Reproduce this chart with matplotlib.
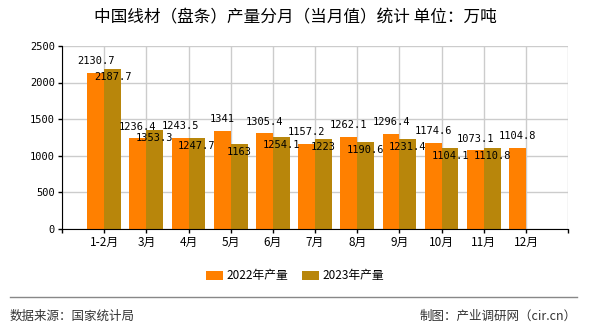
import matplotlib.pyplot as plt
import numpy as np
from matplotlib.lines import Line2D

months = ['1-2月', '3月', '4月', '5月', '6月', '7月', '8月', '9月', '10月', '11月', '12月']
prod_2022 = [2130.7, 1236.4, 1243.5, 1341, 1305.4, 1157.2, 1262.1, 1296.4, 1174.6, 1073.1, 1104.8]
prod_2023 = [2187.7, 1353.3, 1247.7, 1163, 1254.1, 1223, 1190.6, 1231.4, 1104.1, 1110.8]
yticks = [0, 500, 1000, 1500, 2000, 2500]

plt.rcParams['font.family'] = ['Noto Sans CJK SC', 'DejaVu Sans']
mono = 'DejaVu Sans Mono'

fig = plt.figure(figsize=(5.9, 3.3), dpi=100)
ax = fig.add_axes([0.105, 0.306, 0.858, 0.555])

x = np.arange(len(months))
w = 0.4
b1 = ax.bar(x[:len(prod_2022)] - w / 2, prod_2022, w, color='#ff8000', label='2022年产量', zorder=2)
b2 = ax.bar(x[:len(prod_2023)] + w / 2, prod_2023, w, color='#b8860b', label='2023年产量', zorder=2)

for xi, v in zip(x, prod_2022):
    ax.annotate(f'{v:g}', (xi - w / 2, v), xytext=(0, 8.5), textcoords='offset points',
                ha='center', va='center', fontsize=7.5, family=mono, zorder=3)
for xi, v in zip(x, prod_2023):
    ax.annotate(f'{v:g}', (xi + w / 2, v), xytext=(0, -5.8), textcoords='offset points',
                ha='center', va='center', fontsize=7.5, family=mono, zorder=3)

ax.set_xlim(-1, len(months))
ax.set_ylim(0, 2500)
ax.set_xticks(np.arange(-1, len(months) + 1))
ax.set_xticklabels([''] + months + [''], fontsize=8.5)
ax.set_yticks(yticks)
ax.set_yticklabels([str(t) for t in yticks], fontsize=7.5, family=mono)
ax.tick_params(direction='out', length=3, width=1, pad=2)
ax.grid(True, color='#cccccc', linewidth=1, zorder=0)
ax.set_axisbelow(True)
ax.spines['top'].set_visible(False)
ax.spines['right'].set_visible(False)
ax.spines['left'].set_color('black')
ax.spines['bottom'].set_color('black')

fig.legend(handles=[b1, b2], loc='center', bbox_to_anchor=(0.5, 0.164), ncol=2, frameon=False,
           fontsize=8.5, handlelength=1.5, handleheight=0.8, handletextpad=0.3, columnspacing=1.1)

fig.text(0.5, 0.945, '中国线材（盘条）产量分月（当月值）统计 单位：万吨', ha='center', va='center', fontsize=12)
fig.add_artist(Line2D([10 / 590, 577 / 590], [1 - 297 / 330] * 2, color='#888888', lw=1))
fig.text(10 / 590, 0.042, '数据来源：国家统计局', ha='left', va='center', fontsize=9, color='#333333')
fig.text(577 / 590, 0.042, '制图：产业调研网（cir.cn）', ha='right', va='center', fontsize=9, color='#333333')

fig.savefig('out.png', dpi=100)
